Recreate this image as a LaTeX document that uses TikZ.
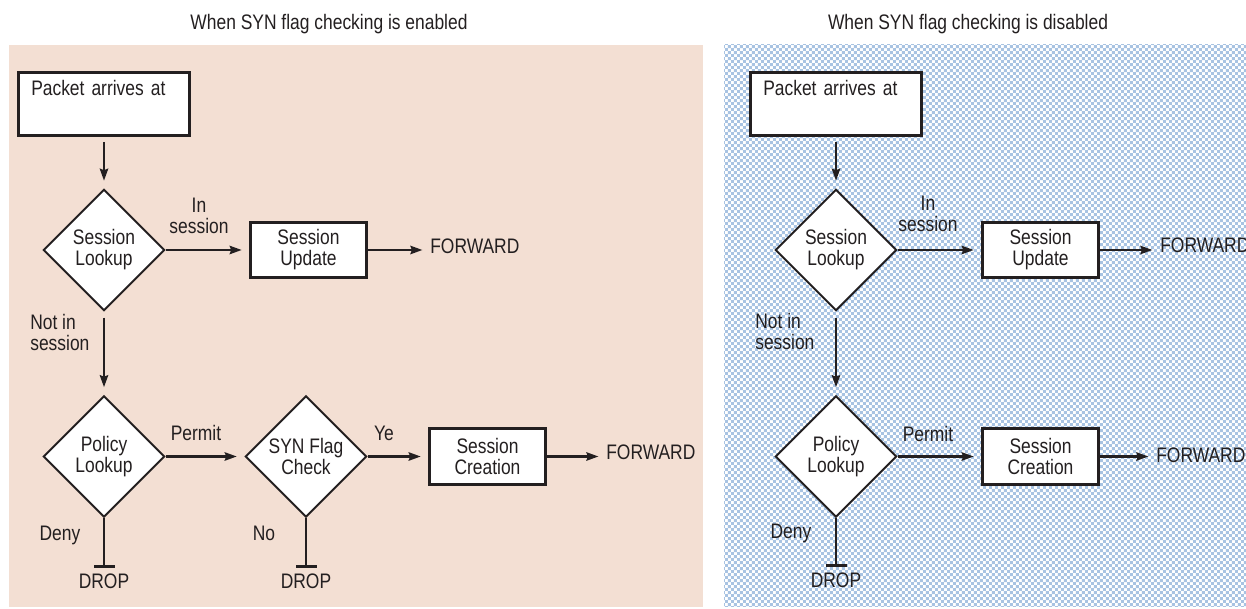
\documentclass[tikz,border=0pt]{standalone}
\usepackage{fontspec}
\setmainfont[FakeStretch=0.83]{Liberation Sans}
\usepackage{xcolor}
\usepackage{tikz}
\usetikzlibrary{arrows.meta,positioning,shapes.geometric,patterns}
\definecolor{inkblack}{RGB}{35, 31, 32}
\definecolor{peachbg}{RGB}{243, 223, 211}
\definecolor{checkblue}{RGB}{168, 195, 226}
\pgfdeclarepatternformonly{finecheck}{\pgfpointorigin}{\pgfqpoint{4pt}{4pt}}{\pgfqpoint{4pt}{4pt}}{%
  \pgfpathrectangle{\pgfpointorigin}{\pgfqpoint{2pt}{2pt}}%
  \pgfpathrectangle{\pgfqpoint{2pt}{2pt}}{\pgfqpoint{2pt}{2pt}}%
  \pgfusepath{fill}%
}
\tikzset{
  startbox/.style={
    draw=inkblack,
    line width=2pt,
    fill=white,
    text width=97pt,
    align=left,
    inner xsep=8.5pt,
    inner ysep=5pt,
    text height=10pt,
    text depth=22pt
  },
  flowbox/.style={
    draw=inkblack,
    line width=2pt,
    fill=white,
    align=center,
    minimum width=77pt,
    minimum height=37pt,
    inner sep=2pt
  },
  decision/.style={
    diamond,
    draw=inkblack,
    line width=1.3pt,
    fill=white,
    align=center,
    minimum width=81pt,
    minimum height=81pt,
    inner sep=0pt
  },
  edgetxt/.style={
    inner sep=0pt,
    align=center
  },
  droptxt/.style={
    anchor=north,
    inner sep=3.7pt
  },
  flowarrow/.style={
    -{Stealth[length=8pt,width=5.5pt,inset=1pt]},
    line width=1.9pt,
    draw=inkblack,
    shorten >=5pt
  },
  droparrow/.style={
    -{Bar[width=14pt]},
    line width=1.9pt,
    draw=inkblack
  }
}

\begin{document}
\begin{tikzpicture}[x=0.6667pt, y=-0.6667pt, font=\fontsize{14pt}{14pt}\selectfont, text=inkblack]
  \useasboundingbox (0,0) rectangle (1246,609);
  \fill[peachbg] (9,45) rectangle (703,607);
  \fill[white] (724,45) rectangle (1246,607);
  \fill[pattern=finecheck, pattern color=checkblue] (724,45) rectangle (1246,607);

  \node[edgetxt] (titleA) at (329,24.5) {When SYN flag checking is enabled};
  \node[edgetxt] (titleB) at (968,24.5) {When SYN flag checking is disabled};

  % SYN flag checking enabled
  \node[startbox] (pktA) at (104,104.5) {Packet arrives at};
  \node[decision] (sesA) at (104,250) {Session\\Lookup};
  \node[flowbox] (updA) at (308.5,250) {Session\\Update};
  \node[edgetxt, anchor=west] (fwdA) at (430,246) {FORWARD};
  \node[decision] (polA) at (104,456.5) {Policy\\Lookup};
  \node[decision] (synA) at (306,456.5) {SYN Flag\\Check};
  \node[flowbox] (creA) at (487.5,456.5) {Session\\Creation};
  \node[edgetxt, anchor=west] (fwdB) at (606,452) {FORWARD};
  \node[droptxt] (dropA) at (104,568) {DROP};
  \node[droptxt] (dropB) at (306,568) {DROP};

  \node[edgetxt] (inA) at (199,215.5) {In\\session};
  \node[edgetxt, anchor=west, align=left] (notA) at (30,332) {Not in\\session};
  \node[edgetxt] (perA) at (196,433) {Permit};
  \node[edgetxt] (yeA) at (384,433) {Ye};
  \node[edgetxt] (denyA) at (60,535) {Deny};
  \node[edgetxt] (noA) at (264,533) {No};

  \draw[flowarrow, shorten <=3pt] (pktA) -- (sesA);
  \draw[flowarrow] (sesA) -- (updA);
  \draw[flowarrow] (updA) -- (updA -| fwdA.west);
  \draw[flowarrow, shorten <=4pt] (sesA) -- (polA);
  \draw[flowarrow] (polA) -- (synA);
  \draw[flowarrow] (synA) -- (creA);
  \draw[flowarrow] (creA) -- (creA -| fwdB.west);
  \draw[droparrow] (polA) -- (dropA);
  \draw[droparrow] (synA) -- (dropB);

  % SYN flag checking disabled
  \node[startbox] (pktB) at (836,104.5) {Packet arrives at};
  \node[decision] (sesB) at (836,250) {Session\\Lookup};
  \node[flowbox] (updB) at (1040.5,250) {Session\\Update};
  \node[edgetxt, anchor=west] (fwdC) at (1160,245) {FORWARD};
  \node[decision] (polB) at (836,456.5) {Policy\\Lookup};
  \node[flowbox] (creB) at (1040.5,456.5) {Session\\Creation};
  \node[edgetxt, anchor=west] (fwdD) at (1156,455) {FORWARD};
  \node[droptxt] (dropC) at (836,567) {DROP};

  \node[edgetxt] (inB) at (928,213.5) {In\\session};
  \node[edgetxt, anchor=west, align=left] (notB) at (755,331.5) {Not in\\session};
  \node[edgetxt] (perB) at (928,433.5) {Permit};
  \node[edgetxt] (denyB) at (791,533) {Deny};

  \draw[flowarrow, shorten <=3pt] (pktB) -- (sesB);
  \draw[flowarrow] (sesB) -- (updB);
  \draw[flowarrow] (updB) -- (updB -| fwdC.west);
  \draw[flowarrow, shorten <=4pt] (sesB) -- (polB);
  \draw[flowarrow] (polB) -- (creB);
  \draw[flowarrow] (creB) -- (creB -| fwdD.west);
  \draw[droparrow] (polB) -- (dropC);
\end{tikzpicture}
\end{document}
